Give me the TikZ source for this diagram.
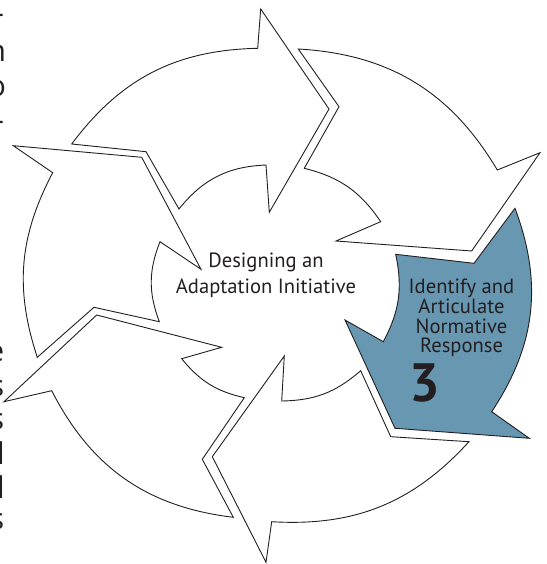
\documentclass[tikz,border=0pt]{standalone}
\usepackage{fontspec}
\setmainfont{PT Sans}
\newfontfamily\columnfont{Open Sans}
\definecolor{inkgray}{HTML}{231F20}
\definecolor{stepblue}{RGB}{104,151,177}
\tikzset{
  ringarrow/.style={draw=inkgray, line width=0.45pt, line join=miter, fill=white},
  focusarrow/.style={ringarrow, fill=stepblue},
  steptext/.style={text=inkgray, align=center, inner sep=0pt, font=\fontsize{10.3}{12.8}\selectfont},
}

\begin{document}
\begin{tikzpicture}[x=0.5pt, y=0.5pt]
  \useasboundingbox (0,0) rectangle (547,564);
  % the six arrows of the cycle, clockwise from the top
  \draw[ringarrow] (146,412.3) -- (71.7,420) to[bend left=26] (257.7,515.7) -- (260.7,555) -- (329,455)
    -- (269.3,351.7) -- (266,399) to[bend right=24.5] (179,355) -- cycle;
  \draw[ringarrow] (339,457.3) -- (298.3,515) to[bend left=28] (497.3,394) -- (540,411.3) -- (471.7,313)
    -- (336,323) -- (380.7,342.3) to[bend right=21] (304.3,395.7) -- cycle;
  \draw[focusarrow] (474,300.7) -- (515,355.7) to[bend left=27] (491.7,152.3) -- (529.3,125.7) -- (395,135.7)
    -- (345,244) -- (383.3,222.3) to[bend right=20] (395.7,309.7) -- cycle;
  \draw[ringarrow] (390.7,127.3) -- (469,122.3) to[bend left=25.5] (271.7,42.3) -- (266,1.7) -- (212.3,107.3)
    -- (284.3,208) -- (281.7,163) to[bend right=20] (360.7,193.3) -- cycle;
  \draw[ringarrow] (202.3,104.7) -- (233.3,46.7) to[bend left=28] (51.7,173.3) -- (4,162.3) -- (96.7,249)
    -- (221.7,216.7) -- (181.7,205.3) to[bend right=19] (244.3,166.3) -- cycle;
  \draw[ringarrow] (94,256.7) -- (37.3,206.7) to[bend left=23] (52.7,391.3) -- (13.3,418.3) -- (141.7,406.7)
    -- (201,294.7) -- (160,322.3) to[bend right=21] (159.3,242.3) -- cycle;

  % labels
  \node[steptext] (title) at (266,289) {Designing an\\Adaptation Initiative};
  \node[steptext, font=\fontsize{10.3}{9.8}\selectfont] (stepname) at (461.5,246) {Identify and\\Articulate\\Normative\\Response};
  \node[text=inkgray, inner sep=0pt, font=\fontsize{27}{27}\selectfont\bfseries] (stepnum) at (425,181) {3};

  % ends of the text column cut by the left edge
  \foreach \x/\y/\t [count=\i] in {4.5/540/-, 6.5/502.3/n, 6.5/467.3/o, 4.5/434/-, 4.5/202.3/e,
      4.5/167.3/s, 4.5/134/s, 5/99/l, 5/65.7/l, 4.5/34/s}
    \node[text=inkgray, inner sep=0pt, anchor=base east, font=\columnfont\fontsize{15}{15}\selectfont] (edge\i) at (\x,\y) {\t};
\end{tikzpicture}
\end{document}
